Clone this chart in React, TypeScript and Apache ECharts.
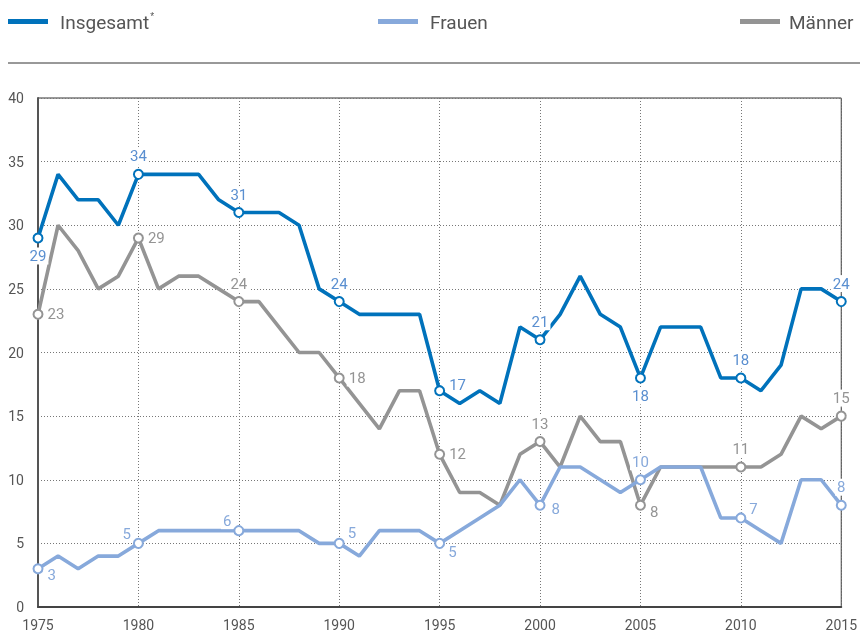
import React, { useEffect, useRef } from "react";
import * as echarts from "echarts";

const years = [
  1975, 1976, 1977, 1978, 1979, 1980, 1981, 1982, 1983, 1984, 1985, 1986, 1987, 1988,
  1989, 1990, 1991, 1992, 1993, 1994, 1995, 1996, 1997, 1998, 1999, 2000, 2001, 2002,
  2003, 2004, 2005, 2006, 2007, 2008, 2009, 2010, 2011, 2012, 2013, 2014, 2015,
];
const insgesamt = [
  29, 34, 32, 32, 30, 34, 34, 34, 34, 32, 31, 31, 31, 30, 25, 24, 23, 23, 23, 23, 17,
  16, 17, 16, 22, 21, 23, 26, 23, 22, 18, 22, 22, 22, 18, 18, 17, 19, 25, 25, 24,
];
const frauen = [
  3, 4, 3, 4, 4, 5, 6, 6, 6, 6, 6, 6, 6, 6, 5, 5, 4, 6, 6, 6, 5, 6, 7, 8, 10, 8, 11,
  11, 10, 9, 10, 11, 11, 11, 7, 7, 6, 5, 10, 10, 8,
];
const maenner = [
  23, 30, 28, 25, 26, 29, 25, 26, 26, 25, 24, 24, 22, 20, 20, 18, 16, 14, 17, 17, 12,
  9, 9, 8, 12, 13, 11, 15, 13, 13, 8, 11, 11, 11, 11, 11, 11, 12, 15, 14, 15,
];
const seriesNames = ["Insgesamt", "Frauen", "Männer"];

// label placement for the marked points (every 5 years): [position, dx, dy]
const insLabelPos: [string, number, number][] = [
  ["bottom", 0, 0], ["top", 0, 0], ["top", 0, 0], ["top", 0, 0], ["right", -2, -6],
  ["top", 0, 0], ["bottom", 0, 0], ["top", 0, 0], ["top", 0, 0],
];
const fraLabelPos: [string, number, number][] = [
  ["right", -2, 6], ["left", 4, -9], ["left", 4, -10], ["right", -3, -10], ["right", -3, 9],
  ["right", 0, 4], ["top", 0, 0], ["right", -3, -9], ["top", 0, 0],
];
const manLabelPos: [string, number, number][] = [
  ["right", -2, 0], ["right", -2, 0], ["top", 0, 0], ["right", -2, 0], ["right", -2, 0],
  ["top", 0, 0], ["right", -2, 7], ["top", 0, 0], ["top", 0, 0],
];

const colors = ["#0072bb", "#87a9db", "#949494"];
const labelColors = ["#5a8fd0", "#87a9db", "#949494"];
const font = "Roboto, 'Liberation Sans', sans-serif";

function buildData(values: number[], pos: [string, number, number][], labelColor: string) {
  return values.map((v, i) => {
    const isMark = (years[i] - 1975) % 5 === 0;
    if (!isMark) return { value: [years[i], v], symbol: "none" };
    const p = pos[(years[i] - 1975) / 5];
    return {
      value: [years[i], v],
      symbol: "circle",
      symbolSize: 9,
      label: {
        show: true,
        position: p[0],
        distance: 4,
        formatter: String(v),
        color: labelColor,
        fontSize: 15,
        fontFamily: font,
        backgroundColor: "#ffffff",
        padding: [1, 2],
      },
    };
  });
}

export default function App() {
  const ref = useRef<HTMLDivElement>(null);
  useEffect(() => {
    if (!ref.current) return;
    const chart = echarts.init(ref.current, null, { renderer: "svg" });
    const mk = (name: string, values: number[], pos: [string, number, number][], idx: number, z: number) => ({
      name,
      type: "line",
      z,
      data: buildData(values, pos, labelColors[idx]),
      lineStyle: { color: colors[idx], width: 3.6 },
      itemStyle: { color: "#ffffff", borderColor: colors[idx], borderWidth: 2 },
      symbol: "none",
      showSymbol: true,
      emphasis: { disabled: true },
      labelLayout: (params: any) => {
        const i = params.dataIndex;
        if ((years[i] - 1975) % 5 !== 0) return {};
        const p = pos[(years[i] - 1975) / 5];
        return { dx: p[1], dy: p[2], hideOverlap: false };
      },
    });
    const legendItems = [
      { x: 8, tx: 60, label: "Insgesamt{s|*}" },
      { x: 378, tx: 430, label: "Frauen" },
      { x: 740, tx: 789, label: "Männer" },
    ];
    chart.setOption({
      animation: false,
      grid: {
        left: 38,
        right: 15,
        top: 98,
        bottom: 26,
        show: true,
        borderColor: "#333",
        borderWidth: 1,
        backgroundColor: "transparent",
      },
      xAxis: {
        type: "value",
        min: 1975,
        max: 2015,
        interval: 5,
        axisLine: { show: true, lineStyle: { color: "#444", width: 2 } },
        axisTick: { show: false },
        axisLabel: { color: "#555", fontSize: 14, fontFamily: font, margin: 11, formatter: (v: number) => String(v) },
        splitLine: { show: true, lineStyle: { color: "#777", type: [1, 2], width: 1 } },
      },
      yAxis: {
        type: "value",
        min: 0,
        max: 40,
        interval: 5,
        axisLine: { show: true, lineStyle: { color: "#555", width: 2 } },
        axisTick: { show: false },
        axisLabel: { color: "#555", fontSize: 14, fontFamily: font, margin: 14 },
        splitLine: { show: true, lineStyle: { color: "#777", type: [1, 2], width: 1 } },
      },
      graphic: [
        ...legendItems.flatMap((it, i) => [
          {
            type: "rect",
            shape: { x: it.x, y: 19, width: 40, height: 5 },
            style: { fill: colors[i] },
          },
          {
            type: "text",
            x: it.tx,
            y: 22,
            style: {
              text: it.label,
              fill: "#555",
              fontSize: 19,
              fontFamily: font,
              verticalAlign: "middle",
              rich: { s: { fontSize: 10, verticalAlign: "top", padding: [0, 0, 12, 1], fill: "#555" } },
            },
          },
        ]),
        {
          type: "line",
          shape: { x1: 8, y1: 63, x2: 860, y2: 63 },
          style: { stroke: "#333", lineWidth: 1 },
        },
      ],
      series: [
        mk(seriesNames[2], maenner, manLabelPos, 2, 2),
        mk(seriesNames[1], frauen, fraLabelPos, 1, 3),
        mk(seriesNames[0], insgesamt, insLabelPos, 0, 4),
      ],
    });
    return () => chart.dispose();
  }, []);
  return (
    <div
      ref={ref}
      style={{ position: "fixed", left: 0, top: 0, width: 860, height: 633 }}
    />
  );
}
